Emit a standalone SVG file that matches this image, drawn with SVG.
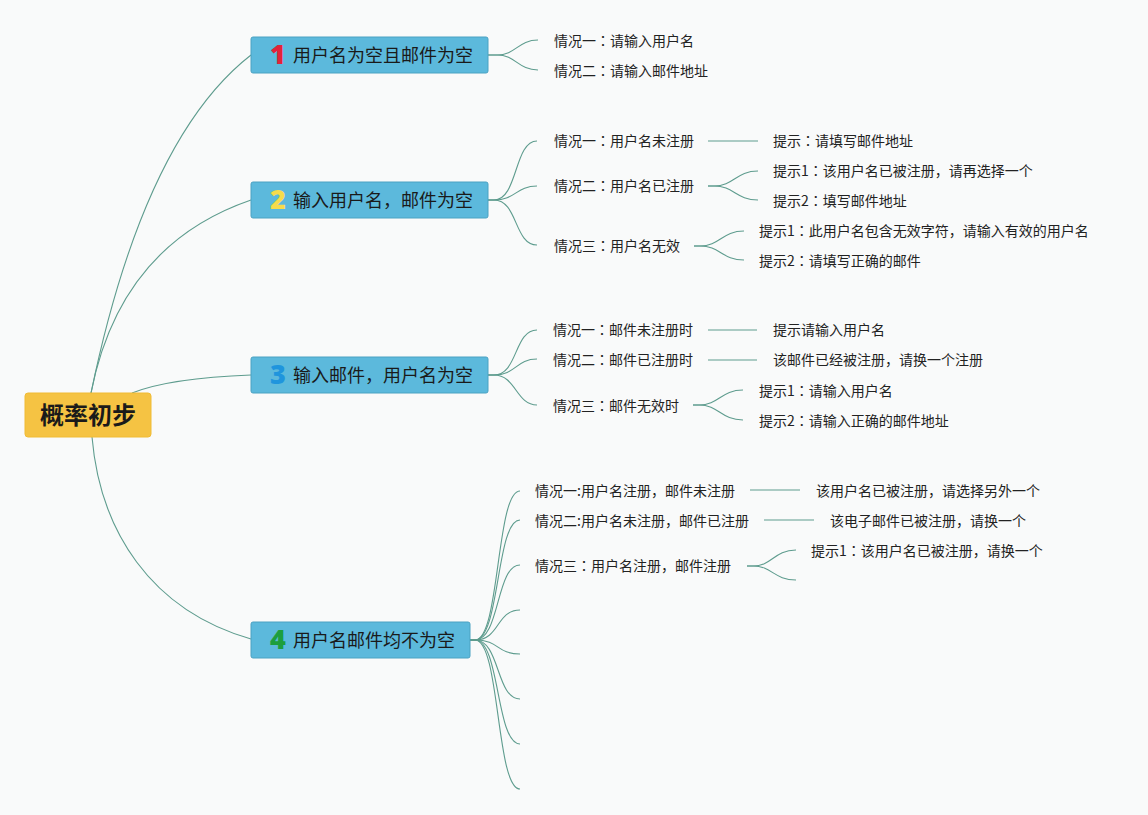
<svg xmlns="http://www.w3.org/2000/svg" width="1148" height="815" viewBox="0 0 1148 815">
<style>
.bg{fill:#f9fafa}
.link{fill:none;stroke:#5e9c8e;stroke-width:1.1}
.root{fill:#f5c343;stroke:#f0bb35;stroke-width:1}
.main{fill:#5cb9dc;stroke:#4ba2c2;stroke-width:1}
.rt{font-family:"Noto Sans CJK SC","Noto Sans",sans-serif;font-size:24px;font-weight:bold;fill:#1a1a1a;text-anchor:middle}
.mt{font-family:"Noto Sans CJK SC","Noto Sans",sans-serif;font-size:18px;fill:#1a1a1a}
.num{font-family:"Noto Sans","Liberation Sans",sans-serif;font-size:27px;font-weight:900;text-anchor:middle}
.ct{font-family:"Noto Sans CJK SC","Noto Sans",sans-serif;font-size:14px;fill:#222}
.c{font-family:"Noto Sans CJK JP","Noto Sans CJK TC",sans-serif}
</style>
<rect class="bg" x="0" y="0" width="1148" height="815"/>
<g id="connectors">
<path class="link" d="M91,393 Q144,138 251,55"/>
<path class="link" d="M91,393 Q120,245 251,200"/>
<path class="link" d="M132,393 Q170,378 251,375"/>
<path class="link" d="M92,437 C100,530 150,610 251,639"/>
<path class="link" d="M488,55 L497,55 C516,55 518,40 538,40"/>
<path class="link" d="M488,55 L497,55 C516,55 518,70 538,70"/>
<path class="link" d="M488,200 L494,200 C518,200 514,141 537,141"/>
<path class="link" d="M488,200 L494,200 C516,200 516,186 537,186"/>
<path class="link" d="M488,200 L494,200 C518,200 514,245 537,245"/>
<path class="link" d="M708,141 L758,141"/>
<path class="link" d="M708,186 L714,186 C734,186 736,171 758,171"/>
<path class="link" d="M708,186 L714,186 C734,186 736,200 758,200"/>
<path class="link" d="M694,246 L700,246 C720,246 722,231 744,231"/>
<path class="link" d="M694,246 L700,246 C720,246 722,260 744,260"/>
<path class="link" d="M488,375 L494,375 C518,375 514,330 537,330"/>
<path class="link" d="M488,375 L494,375 C516,375 516,359 537,359"/>
<path class="link" d="M488,375 L494,375 C516,375 516,405 537,405"/>
<path class="link" d="M708,330 L757,330"/>
<path class="link" d="M708,360 L757,360"/>
<path class="link" d="M693,405 L699,405 C719,405 721,390 743,390"/>
<path class="link" d="M693,405 L699,405 C719,405 721,420 743,420"/>
<path class="link" d="M470,640 L475,640 C500,640 496,491 520,491"/>
<path class="link" d="M470,640 L475,640 C500,640 496,520 520,520"/>
<path class="link" d="M470,640 L475,640 C500,640 496,565 520,565"/>
<path class="link" d="M470,640 L475,640 C500,640 496,610 520,610"/>
<path class="link" d="M470,640 L475,640 C500,640 496,654 520,654"/>
<path class="link" d="M470,640 L475,640 C500,640 496,699 520,699"/>
<path class="link" d="M470,640 L475,640 C500,640 496,744 520,744"/>
<path class="link" d="M470,640 L475,640 C500,640 496,789 520,789"/>
<path class="link" d="M750,490 L800,490"/>
<path class="link" d="M764,520 L814,520"/>
<path class="link" d="M747,566 L753,566 C772,566 774,550 796,550"/>
<path class="link" d="M747,566 L753,566 C772,566 774,580 796,580"/>
</g>
<g id="root">
<rect class="root" x="25" y="393" width="126" height="44" rx="3"/>
<text class="rt" x="88" y="424">概率初步</text>
</g>
<g id="n1">
<rect class="main" x="251" y="37" width="237" height="36" rx="2"/>
<text class="num" x="278" y="64" fill="#e3223a">1</text>
<text class="mt" x="293" y="62">用户名为空且邮件为空</text>
</g>
<g id="n2">
<rect class="main" x="251" y="182" width="237" height="36" rx="2"/>
<text class="num" x="278" y="209" fill="#f6dc4c">2</text>
<text class="mt" x="293" y="207">输入用户名，邮件为空</text>
</g>
<g id="n3">
<rect class="main" x="251" y="357" width="237" height="36" rx="2"/>
<text class="num" x="278" y="384" fill="#1f95dd">3</text>
<text class="mt" x="293" y="382">输入邮件，用户名为空</text>
</g>
<g id="n4">
<rect class="main" x="251" y="622" width="219" height="36" rx="2"/>
<text class="num" x="278" y="649" fill="#1d9e3e">4</text>
<text class="mt" x="293" y="647" textLength="162" lengthAdjust="spacing">用户名邮件均不为空</text>
</g>
<g id="n1-children">
<text class="ct" x="554" y="46">情况一<tspan class="c">：</tspan>请输入用户名</text>
<text class="ct" x="554" y="76">情况二<tspan class="c">：</tspan>请输入邮件地址</text>
</g>
<g id="n2-children">
<text class="ct" x="554" y="146">情况一<tspan class="c">：</tspan>用户名未注册</text>
<text class="ct" x="773" y="146">提示<tspan class="c">：</tspan>请填写邮件地址</text>
<text class="ct" x="554" y="191">情况二<tspan class="c">：</tspan>用户名已注册</text>
<text class="ct" x="773" y="176">提示1<tspan class="c">：</tspan>该用户名已被注册，请再选择一个</text>
<text class="ct" x="773" y="206">提示2<tspan class="c">：</tspan>填写邮件地址</text>
<text class="ct" x="554" y="251">情况三<tspan class="c">：</tspan>用户名无效</text>
<text class="ct" x="759" y="236">提示1<tspan class="c">：</tspan>此用户名包含无效字符，请输入有效的用户名</text>
<text class="ct" x="759" y="266">提示2<tspan class="c">：</tspan>请填写正确的邮件</text>
</g>
<g id="n3-children">
<text class="ct" x="553" y="335">情况一<tspan class="c">：</tspan>邮件未注册时</text>
<text class="ct" x="773" y="335">提示请输入用户名</text>
<text class="ct" x="553" y="365">情况二<tspan class="c">：</tspan>邮件已注册时</text>
<text class="ct" x="773" y="365">该邮件已经被注册，请换一个注册</text>
<text class="ct" x="553" y="411">情况三<tspan class="c">：</tspan>邮件无效时</text>
<text class="ct" x="759" y="396">提示1<tspan class="c">：</tspan>请输入用户名</text>
<text class="ct" x="759" y="426">提示2<tspan class="c">：</tspan>请输入正确的邮件地址</text>
</g>
<g id="n4-children">
<text class="ct" x="535" y="496">情况一:用户名注册，邮件未注册</text>
<text class="ct" x="816" y="496">该用户名已被注册，请选择另外一个</text>
<text class="ct" x="535" y="526">情况二:用户名未注册，邮件已注册</text>
<text class="ct" x="830" y="526">该电子邮件已被注册，请换一个</text>
<text class="ct" x="535" y="571">情况三<tspan class="c">：</tspan>用户名注册，邮件注册</text>
<text class="ct" x="811" y="556">提示1<tspan class="c">：</tspan>该用户名已被注册，请换一个</text>
</g>
</svg>
